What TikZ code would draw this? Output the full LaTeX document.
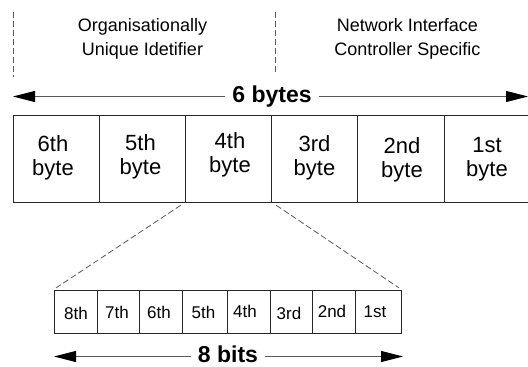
\documentclass[tikz,border=0pt]{standalone}
\usepackage{fontspec}
\setmainfont{Liberation Sans}
\usetikzlibrary{arrows.meta}
\begin{document}
\begin{tikzpicture}[x=1pt,y=-1pt,
  box/.style={draw=black!85, line width=0.9pt, minimum height=87pt, minimum width=86.2pt, inner sep=0pt},
  bitbox/.style={draw=black!85, line width=0.9pt, minimum height=43pt, inner sep=0pt},
  bytelbl/.style={font=\fontsize{22}{24}\selectfont, align=center, anchor=base, inner sep=0pt},
  bitlbl/.style={font=\fontsize{17}{20}\selectfont, anchor=base, inner sep=0pt},
  toplbl/.style={font=\fontsize{18}{23.3}\selectfont, align=center, anchor=base, inner sep=0pt},
  sizelbl/.style={font=\fontsize{23}{26}\selectfont\bfseries, inner xsep=7pt, inner ysep=0pt, text height=16.7pt, text depth=4.8pt},
  arr/.style={draw=black!65, line width=1pt, -{Triangle[length=22pt,width=11pt,color=black]}},
  guide/.style={draw=black!65, line width=0.8pt, dash pattern=on 6pt off 3pt}]

\useasboundingbox (0,0) rectangle (528,367);

% top guides and labels
\coordinate (g1a) at (13,12);
\coordinate (g1b) at (13,77);
\coordinate (g2a) at (275,12);
\coordinate (g2b) at (275,73);
\draw[guide] (g1a) -- (g1b);
\draw[guide] (g2a) -- (g2b);
\node[toplbl] (oui) at (142.5,55) {Organisationally\\Unique Idetifier};
\node[toplbl] (nic) at (407.5,55) {Network Interface\\Controller Specific};

% 6 bytes arrow
\node[sizelbl] (S6) at (272,96.5) {6 bytes};
\coordinate (S6L) at (13,96.5);
\coordinate (S6R) at (528,96.5);
\draw[arr] (S6.west) -- (S6L);
\draw[arr] (S6.east) -- (S6R);

% byte boxes
\node[box] (B6) at (56.1,158.5) {};
\node[box] (B5) at (142.3,158.5) {};
\node[box] (B4) at (228.5,158.5) {};
\node[box] (B3) at (314.7,158.5) {};
\node[box] (B2) at (400.9,158.5) {};
\node[box] (B1) at (487.1,158.5) {};
\node[bytelbl] (L6) at (53,175) {6th\\byte};
\node[bytelbl] (L5) at (140.5,174.5) {5th\\byte};
\node[bytelbl] (L4) at (230,172) {4th\\byte};
\node[bytelbl] (L3) at (314.5,175.5) {3rd\\byte};
\node[bytelbl] (L2) at (402,177.5) {2nd\\byte};
\node[bytelbl] (L1) at (487,176) {1st\\byte};

% bit boxes
\node[bitbox, minimum width=43pt] (b8) at (75.5,311.5) {};
\node[bitbox, minimum width=42.5pt] (b7) at (118.25,311.5) {};
\node[bitbox, minimum width=42.5pt] (b6) at (160.75,311.5) {};
\node[bitbox, minimum width=45pt] (b5) at (204.5,311.5) {};
\node[bitbox, minimum width=43pt] (b4) at (248.5,311.5) {};
\node[bitbox, minimum width=42pt] (b3) at (291,311.5) {};
\node[bitbox, minimum width=43pt] (b2) at (333.5,311.5) {};
\node[bitbox, minimum width=46pt] (b1) at (378,311.5) {};
\node[bitlbl] (l8) at (76,319) {8th};
\node[bitlbl] (l7) at (117,318.5) {7th};
\node[bitlbl] (l6) at (159,318.5) {6th};
\node[bitlbl] (l5) at (203.5,318.5) {5th};
\node[bitlbl] (l4) at (245,317) {4th};
\node[bitlbl] (l3) at (289,319) {3rd};
\node[bitlbl] (l2) at (332,317.5) {2nd};
\node[bitlbl] (l1) at (375,317.5) {1st};

% zoom guides
\draw[guide, shorten <=5pt, shorten >=3pt] (B4.south west) -- (b8.north west);
\draw[guide, shorten <=5pt, shorten >=3pt] (B4.south east) -- (b1.north east);

% 8 bits arrow
\node[sizelbl] (S8) at (228,356.5) {8 bits};
\coordinate (S8L) at (54,356.5);
\coordinate (S8R) at (403,356.5);
\draw[arr] (S8.west) -- (S8L);
\draw[arr] (S8.east) -- (S8R);
\end{tikzpicture}
\end{document}
